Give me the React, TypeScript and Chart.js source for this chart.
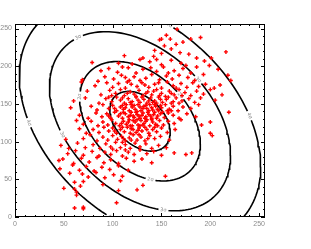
import React, { useEffect, useRef } from "react";
import { Chart, registerables } from "chart.js";

Chart.register(...registerables);

const axisMin = 0;
const axisMax = 256;
const majorTicks = [0, 50, 100, 150, 200, 250];
const minorStep = 10;

const gaussMean = [128, 127];
const gaussSigma = [30.9, 39.6];
const gaussRho = -0.38;
const contourLevels = [1, 2, 3, 4];
const contourLabels = ["1σ", "2σ", "3σ", "4σ"];
const contourLabelAngles: number[][] = [[], [48, 178, 280], [50, 133, 211, 285], [25, 76, 203, 256]];

const samplePoints: [number, number][] = [
  [155,241],[166,249],[150,236],
  [148,235],[159,236],[180,236],[190,238],[172,232],
  [160,223],[169,218],[153,227],[165,229],[143,221],
  [112,214],[216,219],[142,213],[178,216],[186,211],[201,211],[150,217],[131,211],
  [79,205],[194,207],[199,201],[138,206],[150,202],[160,208],[170,204],[175,201],[120,203],[128,209],[106,204],[145,209],
  [88,194],[96,197],[105,192],[116,198],[124,191],[131,196],[145,193],[152,199],[163,194],[172,197],[180,191],[208,196],[186,199],[110,199],[139,198],[157,191],
  [69,182],[85,180],[92,186],[101,183],[109,188],[117,181],[122,186],[134,184],[140,189],[148,182],[155,187],[161,183],[168,188],[177,185],[184,181],[193,189],[218,188],[221,181],[128,181],[113,185],
  [68,179],[82,174],[94,178],[100,172],[106,177],[113,171],[119,176],[125,173],[130,178],[137,172],[143,176],[150,171],[156,179],[162,174],[170,177],[176,172],[182,178],[188,173],[195,176],[204,171],[210,175],[115,179],[133,175],[147,178],[165,171],
  [74,167],[88,162],[97,168],[103,164],[108,169],[112,161],[118,166],[122,163],[127,168],[131,161],[136,166],[140,162],[145,169],[150,164],[154,160],[158,167],[163,162],[168,169],[174,165],[180,161],[186,167],[193,163],[200,169],[212,162],[99,161],[115,164],[124,160],[134,164],[142,167],[148,161],[160,164],[171,161],
  [60,154],[72,158],[86,151],[93,157],[99,153],[104,159],[108,155],[112,151],[116,157],[120,153],[124,159],[128,152],[132,156],[135,151],[139,158],[143,154],[147,159],[151,152],[155,156],[160,151],[165,158],[171,154],[178,157],[184,152],[190,158],[205,155],[110,158],[118,152],[126,155],[137,154],[145,151],[149,156],[157,159],[162,153],[130,159],[141,152],[96,159],[168,151],
  [57,145],[78,147],[84,142],[90,149],[96,144],[100,148],[104,141],[108,146],[111,143],[114,149],[117,141],[120,146],[123,143],[126,149],[129,141],[132,147],[135,144],[138,149],[141,142],[144,147],[147,141],[150,145],[154,149],[158,143],[162,147],[167,141],[172,146],[180,144],[188,149],[219,139],[113,145],[119,149],[125,140],[131,144],[137,141],[143,149],[149,148],[156,141],[128,146],[134,148],[140,145],[146,143],[110,148],[122,148],[160,141],[102,144],
  [66,135],[75,131],[83,138],[89,133],[94,137],[98,131],[102,139],[106,134],[110,131],[113,137],[116,133],[119,139],[122,132],[125,136],[128,131],[131,138],[134,133],[137,136],[140,131],[143,139],[146,134],[149,137],[153,132],[157,138],[162,135],[168,131],[176,137],[185,133],[111,139],[118,135],[124,139],[127,134],[133,131],[136,139],[139,134],[145,131],[121,134],[130,135],[142,136],[151,139],[108,137],[96,134],
  [63,128],[70,123],[78,127],[85,121],[90,126],[95,122],[99,129],[103,124],[107,121],[111,127],[114,123],[117,129],[120,121],[123,126],[126,122],[129,128],[132,124],[135,129],[138,121],[141,126],[144,123],[148,128],[152,122],[157,127],[163,124],[170,129],[191,122],[200,126],[109,124],[116,126],[121,128],[128,121],[134,127],[140,129],[146,121],[125,129],[131,122],[118,121],
  [66,117],[73,111],[80,116],[86,112],[91,119],[96,114],[100,118],[104,111],[108,116],[112,113],[115,119],[118,111],[121,116],[124,112],[127,118],[130,114],[133,119],[137,111],[141,116],[145,113],[150,118],[156,112],[164,116],[200,111],[110,119],[119,117],[126,115],[135,116],[143,119],[102,114],
  [52,103],[70,104],[77,109],[84,101],[90,106],[95,102],[100,108],[105,103],[109,107],[113,101],[117,105],[121,109],[125,102],[129,106],[133,101],[138,108],[143,104],[149,107],[158,102],[202,108],[111,104],[119,102],[127,109],[136,104],
  [47,95],[55,91],[64,98],[72,92],[80,96],[87,91],[93,97],[98,93],[103,99],[108,92],[113,96],[118,91],[123,98],[128,93],[134,97],[140,91],[147,95],[155,92],[110,99],[100,90],
  [54,84],[62,88],[70,82],[79,87],[86,81],[92,86],[98,83],[104,88],[110,81],[116,86],[122,83],[128,89],[135,84],[142,87],[150,82],[163,85],[175,83],[181,85],[113,89],
  [45,75],[49,77],[60,71],[68,78],[76,73],[84,79],[91,72],[98,76],[106,71],[114,78],[122,74],[130,77],[140,72],
  [46,64],[59,69],[66,62],[73,67],[81,61],[89,66],[97,63],[106,68],[116,62],
  [56,58],[69,57],[75,53],[83,59],[92,52],[101,56],[110,54],[154,54],
  [61,46],[67,41],[70,47],[90,43],[108,48],[131,42],
  [50,38],[61,37],[63,33],[106,35],[125,36],
  [63,29],
  [61,12],[70,13],[70,11],[104,19],
];

function ellipsePoint(k: number, tDeg: number) {
  const t = (tDeg * Math.PI) / 180;
  const c = Math.cos(t);
  const s = Math.sin(t);
  const sq = Math.sqrt(1 - gaussRho * gaussRho);
  return {
    x: gaussMean[0] + k * gaussSigma[0] * c,
    y: gaussMean[1] + k * gaussSigma[1] * (gaussRho * c + sq * s),
  };
}

function ellipseCurve(k: number) {
  const pts: { x: number; y: number }[] = [];
  for (let d = 0; d <= 360; d += 2) pts.push(ellipsePoint(k, d));
  return pts;
}

const contourLabelPlugin = {
  id: "contourLabels",
  afterDatasetDraw(chart: any, args: any) {
    const ds: any = chart.data.datasets[args.index];
    if (ds.sigmaIndex === undefined) return;
    const idx = ds.sigmaIndex;
    const k = contourLevels[idx];
    const { ctx, chartArea: a, scales } = chart;
    const xs = scales.x;
    const ys = scales.y;
    ctx.save();
    ctx.beginPath();
    ctx.rect(a.left, a.top, a.right - a.left, a.bottom - a.top);
    ctx.clip();
    for (const ang of contourLabelAngles[idx]) {
      const p = ellipsePoint(k, ang);
      const q = ellipsePoint(k, ang + 1);
      const px = xs.getPixelForValue(p.x);
      const py = ys.getPixelForValue(p.y);
      const qx = xs.getPixelForValue(q.x);
      const qy = ys.getPixelForValue(q.y);
      let rot = Math.atan2(qy - py, qx - px);
      if (rot > Math.PI / 2) rot -= Math.PI;
      if (rot < -Math.PI / 2) rot += Math.PI;
      ctx.save();
      ctx.translate(px, py);
      ctx.rotate(rot);
      ctx.fillStyle = "#ffffff";
      ctx.fillRect(-5, -3, 10, 6);
      ctx.fillStyle = "#8a8a8a";
      ctx.font = "5px 'DejaVu Sans'";
      ctx.textAlign = "center";
      ctx.textBaseline = "middle";
      ctx.fillText(contourLabels[idx], 0, 0);
      ctx.restore();
    }
    ctx.restore();
  },
};

const framePlugin = {
  id: "frameTicks",
  afterDatasetsDraw(chart: any) {
    const { ctx, chartArea: a, scales } = chart;
    const xs = scales.x;
    const ys = scales.y;
    ctx.save();
    ctx.strokeStyle = "#000000";
    ctx.lineWidth = 1;
    ctx.strokeRect(a.left + 0.5, a.top + 0.5, a.right - a.left - 1, a.bottom - a.top - 1);
    ctx.beginPath();
    for (let v = axisMin; v <= axisMax; v += minorStep) {
      const len = majorTicks.includes(v) ? 4 : 2;
      const px = Math.round(xs.getPixelForValue(v)) + 0.5;
      ctx.moveTo(px, a.bottom);
      ctx.lineTo(px, a.bottom - len);
      ctx.moveTo(px, a.top);
      ctx.lineTo(px, a.top + len);
      const py = Math.round(ys.getPixelForValue(v)) + 0.5;
      ctx.moveTo(a.left, py);
      ctx.lineTo(a.left + len, py);
      ctx.moveTo(a.right, py);
      ctx.lineTo(a.right - len, py);
    }
    ctx.stroke();
    ctx.restore();
  },
};

export default function App() {
  const ref = useRef<HTMLCanvasElement | null>(null);

  useEffect(() => {
    document.body.style.margin = "0";
    const canvas = ref.current;
    if (!canvas) return;
    const contourSets = contourLevels.map((k, i) => ({
      type: "scatter" as const,
      data: ellipseCurve(k),
      showLine: true,
      borderColor: "#000000",
      borderWidth: 1.6,
      pointRadius: 0,
      fill: false,
      tension: 0,
      sigmaIndex: i,
    }));
    const tickOpts = {
      color: "#8c8c8c",
      font: { family: "'Liberation Sans', Arial, sans-serif", size: 7 },
      padding: 3,
    };
    const chart = new Chart(canvas, {
      type: "scatter",
      data: {
        datasets: [
          {
            data: samplePoints.map(([x, y]) => ({ x, y })),
            pointStyle: "cross",
            pointRadius: 2,
            borderColor: "#ff0000",
            backgroundColor: "#ff0000",
            borderWidth: 1.4,
          } as any,
          ...(contourSets as any[]),
        ],
      },
      options: {
        responsive: false,
        animation: false,
        events: [],
        layout: { padding: { left: 0, top: 24, right: 46, bottom: 0 } },
        plugins: { legend: { display: false }, tooltip: { enabled: false } },
        scales: {
          x: {
            type: "linear",
            min: axisMin,
            max: axisMax,
            grid: { display: false, drawTicks: false },
            border: { display: false },
            ticks: tickOpts,
            afterBuildTicks: (s: any) => {
              s.ticks = majorTicks.map((v) => ({ value: v }));
            },
            afterFit: (s: any) => {
              s.height = 32;
            },
          },
          y: {
            type: "linear",
            min: axisMin,
            max: axisMax,
            grid: { display: false, drawTicks: false },
            border: { display: false },
            ticks: tickOpts,
            afterBuildTicks: (s: any) => {
              s.ticks = majorTicks.map((v) => ({ value: v }));
            },
            afterFit: (s: any) => {
              s.width = 15;
            },
          },
        },
      } as any,
      plugins: [contourLabelPlugin, framePlugin],
    });
    return () => chart.destroy();
  }, []);

  return (
    <div style={{ width: 311, height: 249, position: "relative" }}>
      <canvas
        ref={ref}
        width={311}
        height={249}
        style={{ position: "absolute", left: 0, top: 0, width: 311, height: 249 }}
      />
    </div>
  );
}
